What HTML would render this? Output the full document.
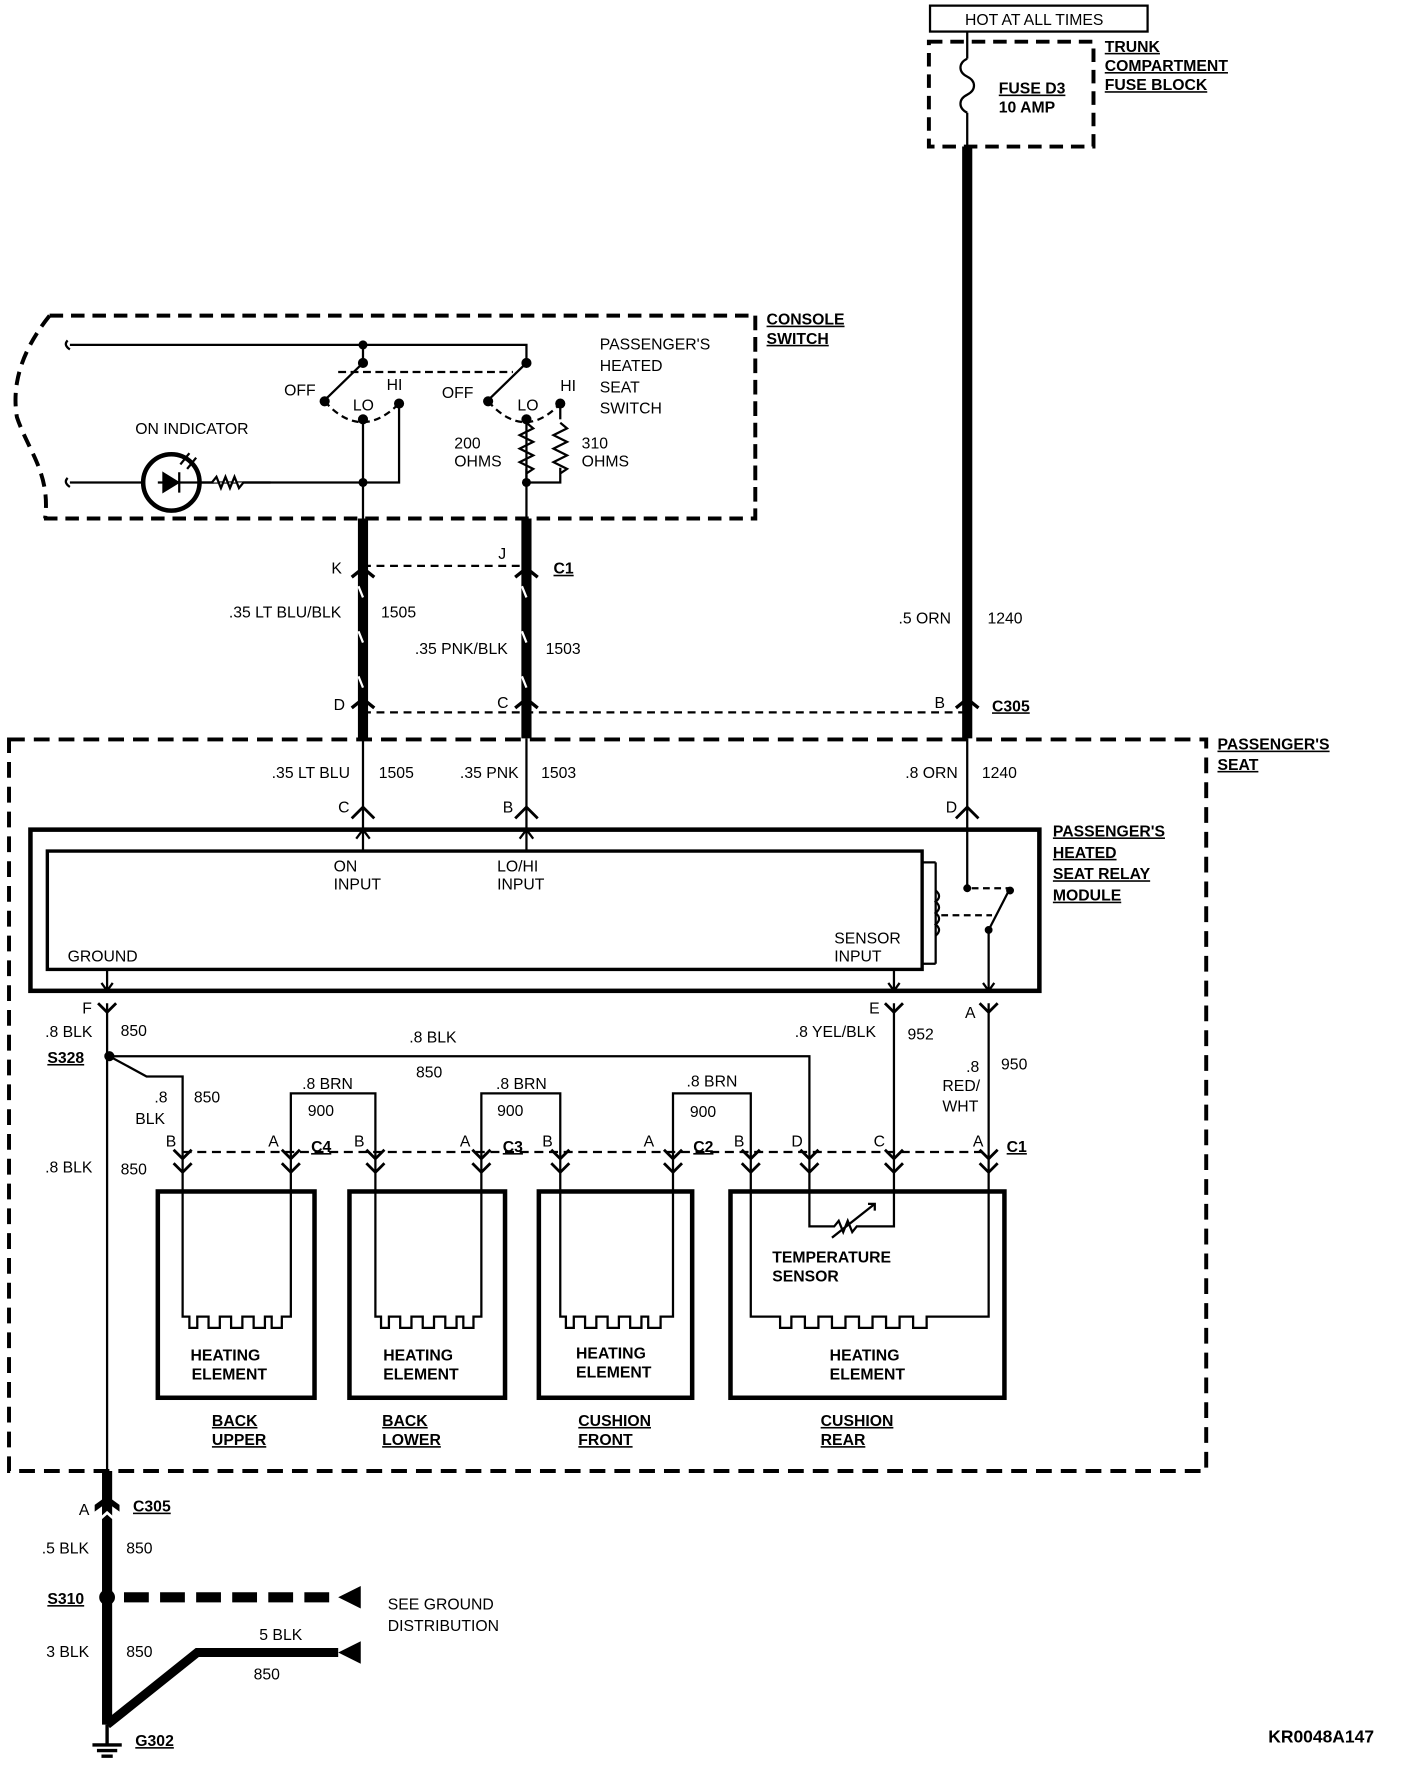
<!DOCTYPE html>
<html><head><meta charset="utf-8"><style>
html,body{margin:0;padding:0;background:#fff}
svg{display:block}
text{font-family:"Liberation Sans",Arial,sans-serif;font-size:14px;fill:#000}
.b{font-weight:bold}
.k{font-size:15.5px}
</style></head><body>
<svg width="1408" height="1772" viewBox="0 0 1249 1572" preserveAspectRatio="none" xmlns="http://www.w3.org/2000/svg">
<g fill="none" stroke="#000">
<rect x="825" y="5" width="193" height="23" stroke-width="2"/>
<rect x="824" y="37" width="146" height="93" stroke-width="3.5" stroke-dasharray="12,7"/>
<path d="M858 28 V52 M858 100 V130" stroke-width="2"/>
<path d="M858 52 c-8 4 -8 12 0 16 c8 4 8 12 0 16 c-8 4 -8 12 0 16" stroke-width="2"/>
<path d="M858 130 V655" stroke-width="9"/>
<path d="M44 280 H670 V460 H33 M670 280 V460" stroke-width="3.5" stroke-dasharray="12,7"/>
<path d="M44 280 C20 310 10 340 15 370 C25 400 45 420 40 460" stroke-width="3.5" stroke-dasharray="12,7"/>
<path d="M62 306 H467 V322 M322 306 V322 M322 322 L288 355 M467 322 L433 355" stroke-width="2"/>
<path d="M300 330 H455" stroke-width="2" stroke-dasharray="7,4"/>
<path d="M288 356 Q320 392 354 358 M433 356 Q465 392 497 358" stroke-width="2" stroke-dasharray="6,4"/>
<path d="M322 372 V470 M354 358 V428 H62 M467 372 V470" stroke-width="2"/>
<path d="M497 358 V372" stroke-width="2"/>
<path d="M467 375 l6 5 -12 6 12 6 -12 6 12 6 -12 6 12 6 -6 4 M497 375 l6 5 -12 6 12 6 -12 6 12 6 -12 6 12 6 -6 4 M467 416 V428 H497 V415" stroke-width="2"/>
<path d="M60 302 q-4 4 2 8 M60 424 q-4 4 2 8" stroke-width="2"/>
<circle cx="152" cy="428" r="25" stroke-width="4" fill="#fff"/>
<path d="M140 428 H190" stroke-width="2"/>
<path d="M145 420 L158 428 L145 436 Z M159 419 V437" fill="#000" stroke-width="2"/>
<path d="M160 412 l8 -10 M166 416 l8 -10" stroke-width="2"/>
<path d="M188 428 l4 -5 4 10 4 -10 4 10 4 -10 4 10 4 -5 H240" stroke-width="2" fill="#fff"/>
<path d="M322 460 V655 M467 460 V655" stroke-width="9"/>
<path d="M322 502 H467 M322 632 H858" stroke-width="2" stroke-dasharray="7,5"/>
<path d="M318 520 l4 10 M463 520 l4 10 M318 600 l4 10 M463 600 l4 10 M318 560 l4 10 M463 560 l4 10" stroke="#fff" stroke-width="2"/>
<path d="M312 512 l10 -8 10 8 M457 512 l10 -8 10 8 M312 628 l10 -8 10 8 M457 628 l10 -8 10 8 M848 628 l10 -8 10 8" stroke-width="3"/>
<rect x="8" y="656" width="1062" height="649" stroke-width="3.5" stroke-dasharray="14,8"/>
<path d="M322 655 V716 M467 655 V716 M858 655 V716" stroke-width="2"/>
<path d="M312 726 l10 -10 10 10 M457 726 l10 -10 10 10 M848 726 l10 -10 10 10" stroke-width="2.5"/>
<rect x="27" y="736" width="895" height="143" stroke-width="4"/>
<rect x="42" y="755" width="776" height="105" stroke-width="3"/>
<path d="M322 716 V755 M467 716 V755 M316 744 l6 -8 6 8 M461 744 l6 -8 6 8" stroke-width="2"/>
<path d="M818 765 H830 M818 855 H830 M830 765 V855" stroke-width="2"/>
<path d="M830 790 q6 5 0 10 q6 5 0 10 q6 5 0 10 q6 5 0 10" stroke-width="2"/>
<path d="M858 716 V785 M877 825 V879 M877 825 L895 790" stroke-width="2"/>
<path d="M835 812 H880 M862 788 H895" stroke-width="2" stroke-dasharray="6,4"/>
<circle cx="858" cy="788" r="3" fill="#000"/><circle cx="896" cy="790" r="3" fill="#000"/><circle cx="877" cy="825" r="3" fill="#000"/>
<path d="M95 860 V880 M793 860 V880 M90 872 l5 7 5 -7 M788 872 l5 7 5 -7 M872 872 l5 7 5 -7" stroke-width="2"/>
<path d="M87 890 l8 8 8 -8 M785 890 l8 8 8 -8 M869 890 l8 8 8 -8" stroke-width="2.5"/>
<path d="M95 890 V1310 M793 890 V1058 M877 890 V1058" stroke-width="2"/>
<path d="M97 937 H718 V1058 M97 937 L130 955 H162 V1058" stroke-width="2"/>
<circle cx="97" cy="937" r="4" fill="#000"/>
<path d="M258 1058 V970 H333 V1058 M427 1058 V970 H497 V1058 M597 1058 V970 H666 V1058" stroke-width="2"/>
<path d="M162 1022 H877" stroke-width="2" stroke-dasharray="8,5"/>
<g stroke-width="2.5">
<path d="M154 1020 l8 8 8 -8 M250 1020 l8 8 8 -8 M325 1020 l8 8 8 -8 M419 1020 l8 8 8 -8 M489 1020 l8 8 8 -8 M589 1020 l8 8 8 -8 M658 1020 l8 8 8 -8 M710 1020 l8 8 8 -8 M785 1020 l8 8 8 -8 M869 1020 l8 8 8 -8"/>
<path d="M154 1032 l8 8 8 -8 M250 1032 l8 8 8 -8 M325 1032 l8 8 8 -8 M419 1032 l8 8 8 -8 M489 1032 l8 8 8 -8 M589 1032 l8 8 8 -8 M658 1032 l8 8 8 -8 M710 1032 l8 8 8 -8 M785 1032 l8 8 8 -8 M869 1032 l8 8 8 -8"/>
</g>
<g stroke-width="4">
<rect x="140" y="1057" width="139" height="183"/>
<rect x="310" y="1057" width="138" height="183"/>
<rect x="478" y="1057" width="136" height="183"/>
<rect x="648" y="1057" width="243" height="183"/>
</g>
<g stroke-width="2">
<path d="M162 1058 V1168 H168 V1178 H175 V1168 H185 V1178 H195 V1168 H205 V1178 H215 V1168 H225 V1178 H235 V1168 H241 V1178 H250 V1168 H258 V1058"/>
<path d="M333 1058 V1168 H338 V1178 H345 V1168 H355 V1178 H365 V1168 H375 V1178 H385 V1168 H395 V1178 H405 V1168 H411 V1178 H420 V1168 H427 V1058"/>
<path d="M497 1058 V1168 H502 V1178 H509 V1168 H519 V1178 H529 V1168 H539 V1178 H549 V1168 H559 V1178 H569 V1168 H575 V1178 H586 V1168 H597 V1058"/>
<path d="M666 1058 V1168 H692 V1178 H702 V1168 H714 V1178 H726 V1168 H738 V1178 H750 V1168 H762 V1178 H774 V1168 H786 V1178 H798 V1168 H810 V1178 H822 V1168 H877 V1058"/>
<path d="M718 1058 V1088 H740 l4 -5 4 10 4 -10 4 10 4 -5 H793 V1058 M738 1098 L776 1068 M770 1068 h6 v6"/>
</g>
<path d="M95 1305 V1530" stroke-width="9"/>
<path d="M86 1338 l9 -8 9 8 M86 1350 l9 -8 9 8" stroke="#fff" stroke-width="2.5"/>
<path d="M110 1417 H300" stroke-width="9" stroke-dasharray="22,10"/>
<path d="M95 1530 L175 1466 H300" stroke-width="8"/>
<path d="M95 1530 V1548 M82 1548 H108 M86 1553 H104 M90 1558 H100" stroke-width="3"/>
</g>
<g fill="#000">
<circle cx="322" cy="306" r="4"/><circle cx="322" cy="322" r="4.5"/><circle cx="467" cy="322" r="4.5"/>
<circle cx="288" cy="356" r="4.5"/><circle cx="322" cy="372" r="4.5"/><circle cx="354" cy="358" r="4.5"/>
<circle cx="433" cy="356" r="4.5"/><circle cx="467" cy="372" r="4.5"/><circle cx="497" cy="358" r="4.5"/>
<circle cx="322" cy="428" r="4"/><circle cx="467" cy="428" r="4"/>
</g>
<circle cx="95" cy="1417" r="7" fill="#000"/>
<polygon points="300,1417 320,1407 320,1427" fill="#000"/>
<polygon points="300,1466 320,1456 320,1476" fill="#000"/>
<path d="M84 1335 l11 -8 11 8 v6 l-11 -8 -11 8z" fill="#000"/>
<text x="856" y="22">HOT AT ALL TIMES</text>
<g class="b" text-decoration="underline">
<text x="980" y="46">TRUNK</text><text x="980" y="63">COMPARTMENT</text><text x="980" y="80">FUSE BLOCK</text>
<text x="886" y="83">FUSE D3</text>
<text x="680" y="288">CONSOLE</text><text x="680" y="305">SWITCH</text>
<text x="491" y="509">C1</text><text x="880" y="631">C305</text>
<text x="1080" y="665">PASSENGER'S</text><text x="1080" y="683">SEAT</text>
<text x="934" y="742">PASSENGER'S</text><text x="934" y="761">HEATED</text><text x="934" y="780">SEAT RELAY</text><text x="934" y="799">MODULE</text>
<text x="42" y="943">S328</text>
<text x="276" y="1022">C4</text><text x="446" y="1022">C3</text><text x="615" y="1022">C2</text><text x="893" y="1022">C1</text>
<text x="188" y="1265">BACK</text><text x="188" y="1282">UPPER</text>
<text x="339" y="1265">BACK</text><text x="339" y="1282">LOWER</text>
<text x="513" y="1265">CUSHION</text><text x="513" y="1282">FRONT</text>
<text x="728" y="1265">CUSHION</text><text x="728" y="1282">REAR</text>
<text x="118" y="1341">C305</text><text x="42" y="1423">S310</text><text x="120" y="1549">G302</text>
</g>
<g class="b">
<text x="886" y="100">10 AMP</text>
<text x="169" y="1207">HEATING</text><text x="170" y="1224">ELEMENT</text>
<text x="340" y="1207">HEATING</text><text x="340" y="1224">ELEMENT</text>
<text x="511" y="1205">HEATING</text><text x="511" y="1222">ELEMENT</text>
<text x="736" y="1207">HEATING</text><text x="736" y="1224">ELEMENT</text>
<text x="685" y="1120">TEMPERATURE</text><text x="685" y="1137">SENSOR</text>
<text x="1125" y="1546" class="k">KR0048A147</text>
</g>
<text x="532" y="310">PASSENGER'S</text><text x="532" y="329">HEATED</text><text x="532" y="348">SEAT</text><text x="532" y="367">SWITCH</text>
<text x="120" y="385">ON INDICATOR</text>
<text x="252" y="351">OFF</text><text x="313" y="364">LO</text><text x="343" y="346">HI</text>
<text x="392" y="353">OFF</text><text x="459" y="364">LO</text><text x="497" y="347">HI</text>
<text x="403" y="398">200</text><text x="403" y="414">OHMS</text><text x="516" y="398">310</text><text x="516" y="414">OHMS</text>
<text x="294" y="509">K</text><text x="442" y="496">J</text>
<text x="203" y="548">.35 LT BLU/BLK</text><text x="338" y="548">1505</text>
<text x="368" y="580">.35 PNK/BLK</text><text x="484" y="580">1503</text>
<text x="797" y="553">.5 ORN</text><text x="876" y="553">1240</text>
<text x="296" y="630">D</text><text x="441" y="628">C</text><text x="829" y="628">B</text>
<text x="241" y="690">.35 LT BLU</text><text x="336" y="690">1505</text>
<text x="408" y="690">.35 PNK</text><text x="480" y="690">1503</text>
<text x="803" y="690">.8 ORN</text><text x="871" y="690">1240</text>
<text x="300" y="721">C</text><text x="446" y="721">B</text><text x="839" y="721">D</text>
<text x="296" y="773">ON</text><text x="296" y="789">INPUT</text>
<text x="441" y="773">LO/HI</text><text x="441" y="789">INPUT</text>
<text x="60" y="853">GROUND</text><text x="740" y="837">SENSOR</text><text x="740" y="853">INPUT</text>
<text x="73" y="899">F</text><text x="771" y="899">E</text><text x="856" y="903">A</text>
<text x="40" y="920">.8 BLK</text><text x="107" y="919">850</text>
<text x="363" y="925">.8 BLK</text><text x="369" y="956">850</text>
<text x="705" y="920">.8 YEL/BLK</text><text x="805" y="922">952</text>
<text x="857" y="951">.8</text><text x="888" y="949">950</text><text x="836" y="968">RED/</text><text x="836" y="986">WHT</text>
<text x="137" y="978">.8</text><text x="120" y="997">BLK</text><text x="172" y="978">850</text>
<text x="268" y="966">.8 BRN</text><text x="273" y="990">900</text>
<text x="440" y="966">.8 BRN</text><text x="441" y="990">900</text>
<text x="609" y="964">.8 BRN</text><text x="612" y="991">900</text>
<text x="40" y="1040">.8 BLK</text><text x="107" y="1042">850</text>
<text x="147" y="1017">B</text><text x="238" y="1017">A</text><text x="314" y="1017">B</text><text x="408" y="1017">A</text>
<text x="481" y="1017">B</text><text x="571" y="1017">A</text><text x="651" y="1017">B</text><text x="702" y="1017">D</text>
<text x="775" y="1017">C</text><text x="863" y="1017">A</text>
<text x="70" y="1344">A</text><text x="37" y="1378">.5 BLK</text><text x="112" y="1378">850</text>
<text x="344" y="1428">SEE GROUND</text><text x="344" y="1447">DISTRIBUTION</text>
<text x="41" y="1470">3 BLK</text><text x="112" y="1470">850</text>
<text x="230" y="1455">5 BLK</text><text x="225" y="1490">850</text>
</svg>
</body></html>
